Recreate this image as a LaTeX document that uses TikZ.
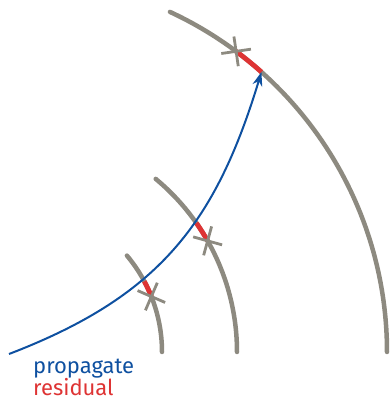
\documentclass[tikz,border=0pt]{standalone}
\usepackage{fontspec}
\setsansfont{Fira Sans}
\usetikzlibrary{arrows.meta,calc}
\definecolor{arcgray}{RGB}{141,138,128}
\definecolor{resred}{RGB}{222,52,52}
\definecolor{propblue}{RGB}{14,80,160}
\begin{document}
\begin{tikzpicture}[x=1pt,y=1pt,
  arcline/.style={draw=arcgray,line width=4.5pt,line cap=round},
  resline/.style={draw=resred,line width=4.8pt},
  crossline/.style={draw=arcgray,line width=2.8pt},
  prop/.style={draw=propblue,line width=2pt,-{Stealth[length=14pt,width=10pt]}},
  lbl/.style={inner sep=0,anchor=base west,font=\sffamily\fontsize{22}{22}\selectfont}]
\useasboundingbox (0,0) rectangle (391,400);
\coordinate (O) at (12,48);
% gray arcs
\draw[arcline] ($(O)+(0:150)$) arc[start angle=0,end angle=40,radius=150];
\draw[arcline] ($(O)+(0:225)$) arc[start angle=0,end angle=50.3,radius=225];
\draw[arcline] ($(O)+(0:375)$) arc[start angle=0,end angle=65.1,radius=375];
% residual segments
\draw[resline] ($(O)+(21.7:150)$) arc[start angle=21.7,end angle=28.1,radius=150];
\draw[resline] ($(O)+(29.6:225)$) arc[start angle=29.6,end angle=35,radius=225];
\draw[resline] ($(O)+(48.3:375)$) arc[start angle=48.3,end angle=53.3,radius=375];
% crosses
\coordinate (x1) at ($(O)+(21.7:150)$);
\coordinate (x2) at ($(O)+(29.6:225)$);
\coordinate (x3) at ($(O)+(53.3:375)$);
\draw[crossline] ($(x1)+(-23.3:15)$) -- ($(x1)+(156.7:15)$);
\draw[crossline] ($(x1)+(66.7:15)$) -- ($(x1)+(246.7:15)$);
\draw[crossline] ($(x2)+(-15.4:15)$) -- ($(x2)+(164.6:15)$);
\draw[crossline] ($(x2)+(74.6:15)$) -- ($(x2)+(254.6:15)$);
\draw[crossline] ($(x3)+(8.3:15)$) -- ($(x3)+(188.3:15)$);
\draw[crossline] ($(x3)+(98.3:15)$) -- ($(x3)+(278.3:15)$);
% propagate curve
\coordinate (start) at (9,46);
\coordinate (tip) at ($(O)+(48.3:375)$);
\draw[prop] (start) .. controls (158.4,103.3) and (215.3,176) .. (tip);
% labels
\node[lbl,text=propblue] (tprop) at (33,27) {propagate};
\node[lbl,text=resred] (tres) at (33,4.5) {residual};
\end{tikzpicture}
\end{document}
